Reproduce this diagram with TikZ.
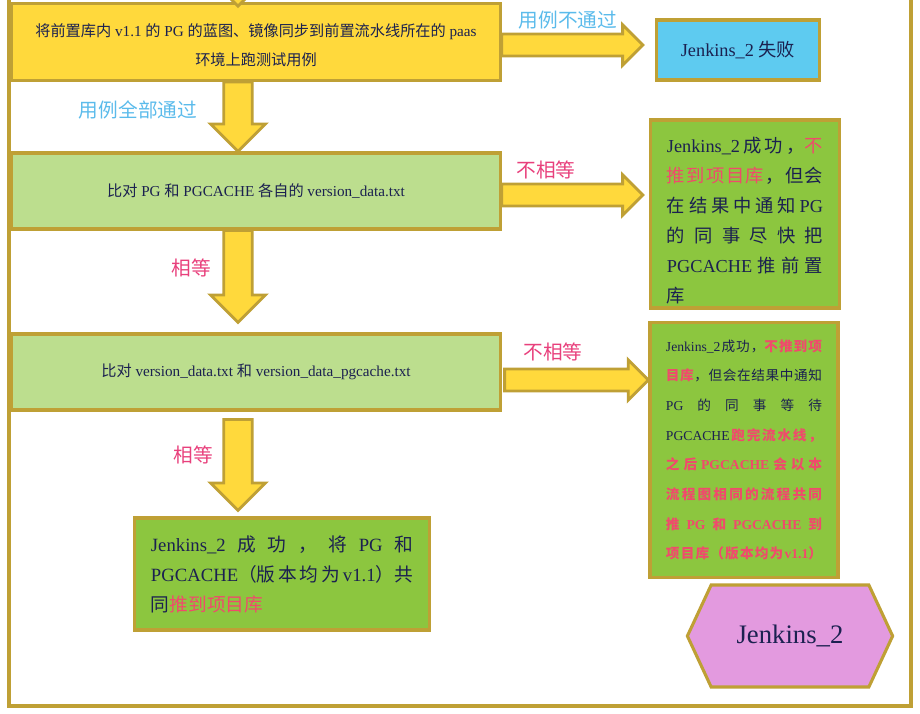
\documentclass[tikz,border=0pt]{standalone}
\usepackage{fontspec}
\setmainfont{Liberation Serif}
\newfontfamily\cjk{Noto Sans CJK SC}
\usetikzlibrary{%
  positioning,
  calc,
  shapes.arrows,
  shapes.symbols,
}

\definecolor{rim}{HTML}{BFA035}
\definecolor{lemon}{HTML}{FFD93C}
\definecolor{pale}{HTML}{BCDE8E}
\definecolor{grass}{HTML}{8CC63F}
\definecolor{sky}{HTML}{5ECBF0}
\definecolor{orchid}{HTML}{E39ADF}
\definecolor{ink}{HTML}{1B2150}
\definecolor{hired}{HTML}{F04A6C}
\definecolor{skytext}{HTML}{5BBBEB}
\definecolor{rosetext}{HTML}{E8407C}

\newcommand{\hl}[1]{\textcolor{hired}{#1}}
% a line stretched over the whole text width
\newcommand{\fullline}[1]{\makebox[\hsize][s]{\spaceskip=0pt plus 1fil #1}}

% fat arrow from #1 to #2, half shaft #3, head extend #4
\newcommand{\fatarrow}[4]{%
  \path let \p1=(#1), \p2=(#2),
        \n1={atan2(\y2-\y1,\x2-\x1)}, \n2={veclen(\x2-\x1,\y2-\y1)} in
    node[blockarrow, minimum height=\n2, inner ysep=#3,
         single arrow head extend=#4, rotate=\n1, anchor=tail] at (\p1) {};%
}

\begin{document}
\begin{tikzpicture}[
    x=0.025cm, y=-0.025cm,
    box/.style={
      % The shape:
      rectangle,
      % The border:
      line width=2.2pt,
      draw=rim,
      % The text:
      text=ink,
      inner sep=0pt,
      align=center,
      font=\fontsize{10.8}{21}\selectfont,
    },
    task/.style={box, fill=lemon, minimum width=12.2cm, minimum height=1.92cm},
    check/.style={box, fill=pale, minimum width=12.2cm, minimum height=1.9cm},
    outcome/.style={box, fill=grass, align=left},
    tag/.style={font=\cjk\fontsize{14}{16}\selectfont},
    blockarrow/.style={
      single arrow,
      draw=rim,
      fill=lemon,
      line width=2pt,
      inner xsep=0pt,
      minimum width=0pt,
      outer sep=0pt,
      single arrow tip angle=90,
    },
    frame/.style={draw=rim, line width=2.2pt},
  ]

    \useasboundingbox (0,0) rectangle (920,714);
    \clip (0,0) rectangle (920,714);

    \draw[frame] (9,-10) -- (9,706) -- (911,706) -- (911,-10);

    % the steps on the left
    \node[task] (prep) at (256,42)
      {\rule{0pt}{14pt}{\cjk 将前置库内} v1.1 {\cjk 的} PG {\cjk 的蓝图、镜像同步到前置流水线所在的} paas\\
       {\cjk 环境上跑测试用例}};
    \node[check] (cmp1) at (256,191)
      {{\cjk 比对} PG {\cjk 和} PGCACHE {\cjk 各自的} version\_data.txt};
    \node[check] (cmp2) at (256,372)
      {{\cjk 比对} version\_data.txt {\cjk 和} version\_data\_pgcache.txt};

    % the outcomes
    \node[box, fill=sky, minimum width=4.08cm, minimum height=1.5cm,
          font=\fontsize{13}{16}\selectfont] (fail) at (738,50)
      {Jenkins\_2 {\cjk 失败}};
    \node[outcome, minimum width=4.73cm, minimum height=4.7cm, text width=3.9cm,
          font=\fontsize{13}{21.3}\selectfont] (waitA) at (745,214)
      {\fullline{\rule{0pt}{20pt}Jenkins\_2 {\cjk 成 功 ，\hl{不}}}\\
       \fullline{{\cjk \hl{推 到 项 目 库} ， 但 会}}\\
       \fullline{{\cjk 在 结 果 中 通 知} PG}\\
       \fullline{{\cjk 的 同 事 尽 快 把}}\\
       \fullline{PGCACHE {\cjk 推 前 置}}\\
       {\cjk 库}};
    \node[outcome, minimum width=4.7cm, minimum height=6.38cm, text width=3.9cm,
          font=\fontsize{9.7}{21.1}\selectfont] (waitB) at (744,450)
      {\fullline{Jenkins\_2 {\cjk 成 功 ，\hl{\bfseries 不 推 到 项}}}\\
       \fullline{{\cjk \hl{\bfseries 目 库} ， 但 会 在 结 果 中 通 知}}\\
       \fullline{PG {\cjk 的 同 事 等 待}}\\
       \fullline{PGCACHE \hl{\bfseries\cjk 跑 完 流 水 线 ，}}\\
       \fullline{\hl{\bfseries{\cjk 之 后} PGCACHE {\cjk 会 以 本}}}\\
       \fullline{\hl{\bfseries\cjk 流 程 图 相 同 的 流 程 共 同}}\\
       \fullline{\hl{\bfseries{\cjk 推} PG {\cjk 和} PGCACHE {\cjk 到}}}\\
       \fullline{\hl{\bfseries{\cjk 项 目 库 （ 版 本 均 为} v1.1{\cjk ）}}}};
    \node[outcome, minimum width=7.38cm, minimum height=2.8cm, text width=6.55cm,
          font=\fontsize{13.3}{21.3}\selectfont] (pushed) at (282,574)
      {\fullline{Jenkins\_2 {\cjk 成 功 ， 将} PG {\cjk 和}}\\
       \fullline{PGCACHE{\cjk （版 本 均 为} v1.1{\cjk ）共}}\\
       {\cjk 同\hl{推到项目库}}};
    \node[box, fill=orchid, signal, signal to=west and east, signal pointer angle=130,
          minimum width=5.13cm, minimum height=2.55cm,
          font=\fontsize{19}{22}\selectfont] (job) at (790,636) {Jenkins\_2};

    % the labels of the arrows
    \node[tag, text=skytext] (failtag) at (568,20) {用例不通过};
    \node[tag, text=skytext] (passtag) at (138,110) {用例全部通过};
    \node[tag, text=rosetext] (neqA) at (546,170) {不相等};
    \node[tag, text=rosetext] (eqA) at (191,268) {相等};
    \node[tag, text=rosetext] (neqB) at (553,352) {不相等};
    \node[tag, text=rosetext] (eqB) at (193,455) {相等};

    % the arrows
    \coordinate (col) at (238,0);
    \coordinate (entry) at (238,-80);
    \fatarrow{entry}{$(prep.north -| col)+(0,4)$}{0.32cm}{0.33cm}
    \fatarrow{prep.south -| col}{cmp1.north -| col}{0.32cm}{0.33cm}
    \fatarrow{cmp1.south -| col}{$(cmp2.north -| col)+(0,-10)$}{0.32cm}{0.33cm}
    \fatarrow{$(cmp2.south -| col)+(0,8)$}{$(pushed.north -| col)+(0,-6)$}{0.32cm}{0.33cm}
    \fatarrow{$(prep.east)+(0,3)$}{$(fail.west |- prep.east)+(-12,3)$}{0.24cm}{0.23cm}
    \fatarrow{$(cmp1.east)+(0,4)$}{$(waitA.west |- cmp1.east)+(-6,4)$}{0.24cm}{0.23cm}
    \fatarrow{$(cmp2.east)+(3,8)$}{$(waitB.west |- cmp2.east)+(0,8)$}{0.24cm}{0.23cm}
  \end{tikzpicture}
\end{document}
